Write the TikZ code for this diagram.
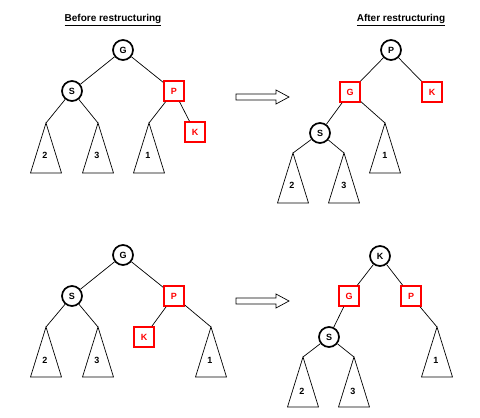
\documentclass[tikz,border=0pt]{standalone}
\usepackage{fontspec}
\setmainfont{Liberation Sans}
\usetikzlibrary{calc}

\begin{document}
\begin{tikzpicture}[x=1pt, y=-1pt,
    black node/.style={circle, draw, line width=1.7pt, minimum size=20pt, inner sep=0pt, font=\bfseries\small},
    red node/.style={rectangle, draw=red, line width=1.7pt, minimum size=20pt, inner sep=0pt, text=red, font=\bfseries\small},
    edge/.style={line width=0.7pt},
    tri/.style={line width=0.7pt},
    lbl/.style={font=\bfseries\small},
    title/.style={font=\bfseries\normalsize},
    bigarrow/.style={line width=0.7pt}]

    \useasboundingbox (0,0) rectangle (480,418);

    % Before restructuring (top)
    \node[title] (title1) at (113,20) {\underline{Before restructuring}};
    \node[black node] (g1) at (123,50) {G};
    \node[black node] (s1) at (72,91) {S};
    \node[red node] (p1) at (174,91) {P};
    \node[red node] (k1) at (195,132) {K};
    \coordinate (a21) at (46,123);
    \coordinate (a31) at (98,123);
    \coordinate (a11) at (149,123);
    \draw[tri] (a21) -- ++(-15.5,50) -- ++(31,0) -- cycle;
    \draw[tri] (a31) -- ++(-15.5,50) -- ++(31,0) -- cycle;
    \draw[tri] (a11) -- ++(-15.5,50) -- ++(31,0) -- cycle;
    \node[lbl] (l21) at (45,155) {2};
    \node[lbl] (l31) at (97,155) {3};
    \node[lbl] (l11) at (148,155) {1};
    \draw[edge] (g1) -- (s1);
    \draw[edge] (g1) -- (p1);
    \draw[edge] (s1) -- (a21);
    \draw[edge] (s1) -- (a31);
    \draw[edge] (p1) -- (a11);
    \draw[edge] (p1) -- (k1);

    % After restructuring (top)
    \node[title] (title2) at (401,20) {\underline{After restructuring}};
    \node[black node] (p2) at (391,50) {P};
    \node[red node] (g2) at (350,92) {G};
    \node[red node] (k2) at (432,92) {K};
    \node[black node] (s2) at (320,133) {S};
    \coordinate (a22) at (293,153);
    \coordinate (a32) at (344,153);
    \coordinate (a12) at (385,123);
    \draw[tri] (a22) -- ++(-15.5,50) -- ++(31,0) -- cycle;
    \draw[tri] (a32) -- ++(-15.5,50) -- ++(31,0) -- cycle;
    \draw[tri] (a12) -- ++(-15.5,50) -- ++(31,0) -- cycle;
    \node[lbl] (l22) at (292,185) {2};
    \node[lbl] (l32) at (344,185) {3};
    \node[lbl] (l12) at (385,155) {1};
    \draw[edge] (p2) -- (g2);
    \draw[edge] (p2) -- (k2);
    \draw[edge] (g2) -- (s2);
    \draw[edge] (g2) -- (a12);
    \draw[edge] (s2) -- (a22);
    \draw[edge] (s2) -- (a32);

    % Arrow (top)
    \coordinate (from1) at (236,97);
    \draw[bigarrow] (from1) ++(0,-3) -- ++(40,0) -- ++(0,-4) -- ++(13,7)
        -- ++(-13,7) -- ++(0,-4) -- ++(-40,0) -- cycle;

    % Before restructuring (bottom)
    \node[black node] (g3) at (123,255) {G};
    \node[black node] (s3) at (72,296) {S};
    \node[red node] (p3) at (174,296) {P};
    \node[red node] (k3) at (144,337) {K};
    \coordinate (a23) at (46,327);
    \coordinate (a33) at (98,327);
    \coordinate (a13) at (211,327);
    \draw[tri] (a23) -- ++(-15.5,50) -- ++(31,0) -- cycle;
    \draw[tri] (a33) -- ++(-15.5,50) -- ++(31,0) -- cycle;
    \draw[tri] (a13) -- ++(-15.5,50) -- ++(31,0) -- cycle;
    \node[lbl] (l23) at (45,360) {2};
    \node[lbl] (l33) at (97,360) {3};
    \node[lbl] (l13) at (210,360) {1};
    \draw[edge] (g3) -- (s3);
    \draw[edge] (g3) -- (p3);
    \draw[edge] (s3) -- (a23);
    \draw[edge] (s3) -- (a33);
    \draw[edge] (p3) -- (k3);
    \draw[edge] (p3) -- (a13);

    % After restructuring (bottom)
    \node[black node] (k4) at (380,256) {K};
    \node[red node] (g4) at (349,296) {G};
    \node[red node] (p4) at (411,296) {P};
    \node[black node] (s4) at (329,337) {S};
    \coordinate (a24) at (303,357);
    \coordinate (a34) at (354,357);
    \coordinate (a14) at (437,327);
    \draw[tri] (a24) -- ++(-15.5,50) -- ++(31,0) -- cycle;
    \draw[tri] (a34) -- ++(-15.5,50) -- ++(31,0) -- cycle;
    \draw[tri] (a14) -- ++(-15.5,50) -- ++(31,0) -- cycle;
    \node[lbl] (l24) at (302,391) {2};
    \node[lbl] (l34) at (353,391) {3};
    \node[lbl] (l14) at (436,360) {1};
    \draw[edge] (k4) -- (g4);
    \draw[edge] (k4) -- (p4);
    \draw[edge] (g4) -- (s4);
    \draw[edge] (p4) -- (a14);
    \draw[edge] (s4) -- (a24);
    \draw[edge] (s4) -- (a34);

    % Arrow (bottom)
    \coordinate (from2) at (236,301);
    \draw[bigarrow] (from2) ++(0,-3) -- ++(40,0) -- ++(0,-4) -- ++(13,7)
        -- ++(-13,7) -- ++(0,-4) -- ++(-40,0) -- cycle;
\end{tikzpicture}
\end{document}
